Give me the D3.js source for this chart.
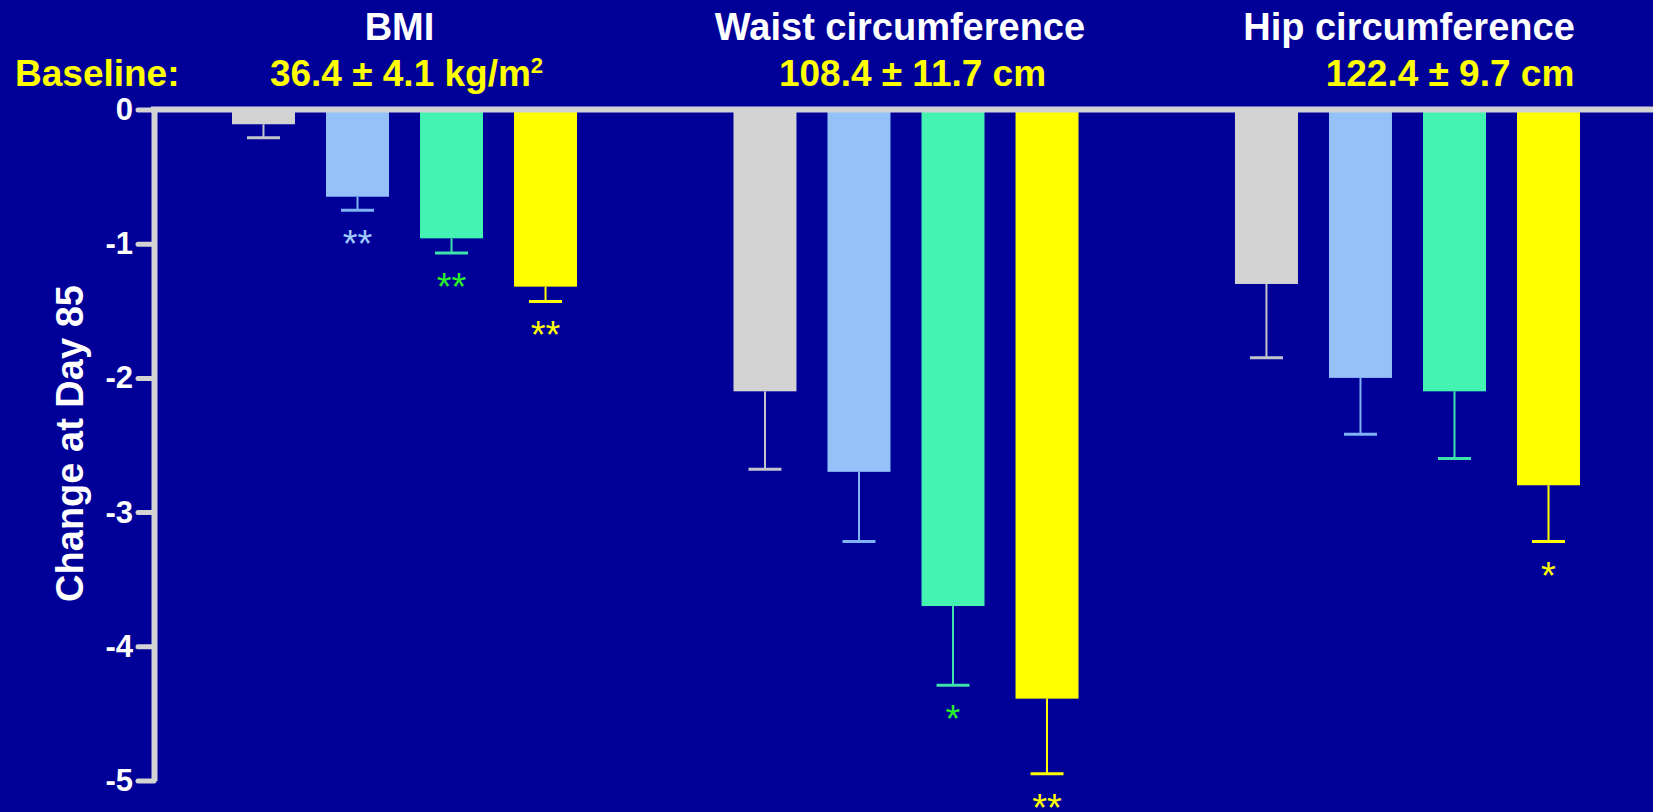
<!DOCTYPE html>
<html>
<head>
<meta charset="utf-8">
<script src="https://cdn.jsdelivr.net/npm/d3@7"></script>
<style>
  html, body { margin: 0; padding: 0; background: #000099; overflow: hidden; }
  svg { display: block; font-family: "Liberation Sans", Arial, sans-serif; font-weight: bold; }
</style>
</head>
<body>
<svg id="chart" width="1653" height="812"></svg>
<script>
// ---------------- data ----------------
const categories = ["BMI", "Waist circumference", "Hip circumference"];
const baselineLabel = "Baseline:";
const baselineValues = ["36.4 ± 4.1 kg/m²", "108.4 ± 11.7 cm", "122.4 ± 9.7 cm"];
const seriesIds = ["group1", "group2", "group3", "group4"];
const values = [
  [-0.11, -2.10, -1.30],
  [-0.65, -2.70, -2.00],
  [-0.96, -3.70, -2.10],
  [-1.32, -4.39, -2.80]
];
const errors = [
  [0.10, 0.58, 0.55],
  [0.10, 0.52, 0.42],
  [0.11, 0.59, 0.50],
  [0.11, 0.56, 0.42]
];
const significance = [
  ["", "", ""],
  ["**", "", ""],
  ["**", "*", ""],
  ["**", "**", "*"]
];
const yTicks = [0, -1, -2, -3, -4, -5];
const yTickLabels = ["0", "-1", "-2", "-3", "-4", "-5"];
const yTitle = "Change at Day 85";

// ---------------- styles / layout ----------------
const W = 1653, H = 812;
const barColors = ["#d3d3d3", "#93c1f8", "#44f2b2", "#ffff00"];
const errColors = ["#c4c4cc", "#80b3f3", "#3ee2ab", "#ffff00"];
const starColors = ["#ffffff", "#a0c8ff", "#2bef2b", "#ffff00"];
const axisColor = "#d3d3d3";
const titleOffsets = [-5, -6, 1.5];
const baselineOffsets = [2, 6.5, 42.5];

const svg = d3.select("#chart");
svg.append("rect").attr("width", W).attr("height", H).attr("fill", "#000099");

const x0 = d3.scaleBand().domain(categories).range([232, 1580]).paddingInner(0.312).paddingOuter(0);
const x1 = d3.scaleBand().domain(seriesIds).range([0, x0.bandwidth()]).paddingInner(0.33).paddingOuter(0);
const y = d3.scaleLinear().domain([0, -5]).range([109.5, 780.5]);

// records
const records = [];
seriesIds.forEach((s, si) => {
  categories.forEach((c, ci) => {
    records.push({ s, si, c, ci, v: values[si][ci], e: errors[si][ci], sig: significance[si][ci] });
  });
});

// bars
svg.append("g").selectAll("rect").data(records).join("rect")
  .attr("x", d => x0(d.c) + x1(d.s))
  .attr("y", y(0))
  .attr("width", x1.bandwidth())
  .attr("height", d => y(d.v) - y(0))
  .attr("fill", d => barColors[d.si]);

// error bars
const eg = svg.append("g");
records.forEach(d => {
  const cx = x0(d.c) + x1(d.s) + x1.bandwidth() / 2;
  const yl = y(d.v - d.e);
  eg.append("line").attr("x1", cx).attr("x2", cx).attr("y1", y(d.v)).attr("y2", yl)
    .attr("stroke", errColors[d.si]).attr("stroke-width", 2);
  eg.append("line").attr("x1", cx - 16.5).attr("x2", cx + 16.5).attr("y1", yl).attr("y2", yl)
    .attr("stroke", errColors[d.si]).attr("stroke-width", 3);
  if (d.sig) {
    eg.append("text").attr("x", cx).attr("y", yl + 47)
      .attr("text-anchor", "middle").attr("fill", starColors[d.si])
      .attr("font-size", 38).attr("font-weight", "normal").text(d.sig);
  }
});

// top zero line
svg.append("line").attr("x1", 151).attr("x2", W).attr("y1", y(0)).attr("y2", y(0))
  .attr("stroke", axisColor).attr("stroke-width", 6);

// y axis
const yAxis = d3.axisLeft(y).tickValues(yTicks).tickFormat((d, i) => yTickLabels[i])
  .tickSize(16).tickSizeOuter(0).tickPadding(5);
const ya = svg.append("g").attr("transform", "translate(154,0)").call(yAxis);
ya.select(".domain").attr("stroke", axisColor).attr("stroke-width", 6);
ya.selectAll(".tick line").attr("stroke", axisColor).attr("stroke-width", 5).attr("stroke-linecap", "round");
ya.selectAll(".tick text").attr("fill", "#ffffff").attr("font-size", 31)
  .attr("font-family", "'Liberation Sans', Arial, sans-serif").attr("font-weight", "bold");

// y title
svg.append("text").attr("transform", "translate(83,443.5) rotate(-90)")
  .attr("text-anchor", "middle").attr("fill", "#ffffff").attr("font-size", 38).text(yTitle);

// category titles
svg.append("g").selectAll("text").data(categories).join("text")
  .attr("x", (d, i) => x0(d) + x0.bandwidth() / 2 + titleOffsets[i])
  .attr("y", 39.5)
  .attr("text-anchor", "middle").attr("fill", "#ffffff").attr("font-size", 38)
  .text(d => d);

// baseline label
svg.append("text").attr("x", 15).attr("y", 85.5).attr("fill", "#ffff00").attr("font-size", 37).text(baselineLabel);

// baseline values
categories.forEach((c, i) => {
  const parts = baselineValues[i].split("²");
  const t = svg.append("text")
    .attr("x", x0(c) + x0.bandwidth() / 2 + baselineOffsets[i])
    .attr("y", 85.5).attr("text-anchor", "middle").attr("fill", "#ffff00").attr("font-size", 37);
  t.append("tspan").text(parts[0]);
  if (parts.length > 1) {
    t.append("tspan").attr("font-size", 22).attr("dy", -13).text("2");
    t.append("tspan").attr("dy", 13).text(parts[1]);
  }
});
</script>
</body>
</html>
